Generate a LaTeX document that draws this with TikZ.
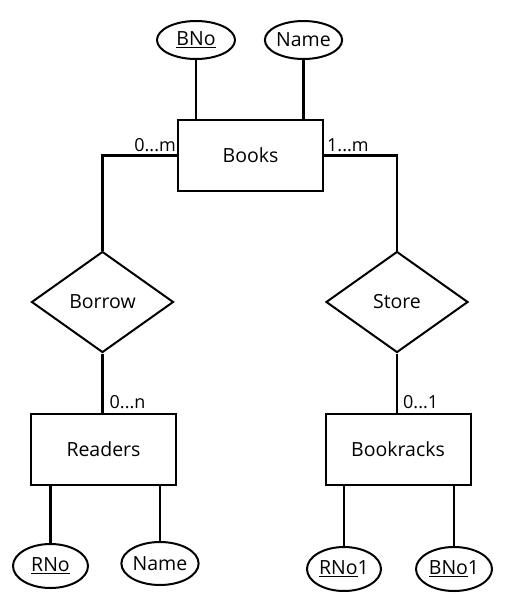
\documentclass[tikz,border=0pt]{standalone}
\usepackage{fontspec}
\setmainfont{Open Sans}
\usetikzlibrary{shapes.geometric}
\begin{document}
\begin{tikzpicture}[x=1pt,y=-1pt,
  every node/.style={font=\fontsize{19.5}{22}\selectfont},
  ent/.style={draw,line width=2pt,minimum width=145pt,minimum height=71pt,inner sep=0pt},
  rel/.style={draw,line width=2pt,diamond,minimum width=142pt,minimum height=101pt,inner sep=0pt,aspect=1.4},
  attr/.style={draw,line width=2pt,ellipse,inner sep=0pt},
  card/.style={inner sep=0pt,font=\fontsize{18}{20}\selectfont},
  conn/.style={line width=2.4pt}]
\useasboundingbox (0,0) rectangle (505,603);
\node[ent] (books) at (250.5,155.5) {Books};
\node[ent] (readers) at (103.5,449) {Readers};
\node[ent] (racks) at (398,449) {Bookracks};
\node[rel] (borrow) at (102.5,302) {Borrow};
\node[rel] (store) at (397,302) {Store};
\node[attr,minimum width=78pt,minimum height=38pt] (bno) at (196,40) {\underline{BNo}};
\node[attr,minimum width=73pt,minimum height=38pt] (bname) at (303.5,40) {Name};
\node[attr,minimum width=75pt,minimum height=44pt] (rno) at (50.5,566) {\underline{RNo}};
\node[attr,minimum width=74pt,minimum height=43pt] (rname) at (160,563.5) {Name};
\node[attr,minimum width=74pt,minimum height=44pt] (rno1) at (344,569) {\underline{RNo}1};
\node[attr,minimum width=76pt,minimum height=44pt] (bno1) at (454,569) {\underline{BNo}1};
\draw[conn] (bno) -- (bno |- books.north);
\draw[conn] (bname) -- (bname |- books.north);
\draw[conn] (books.west) -| (borrow.north);
\draw[conn] (books.east) -| (store.north);
\draw[conn] (borrow.south) -- (borrow.south |- readers.north);
\draw[conn] (store.south) -- (store.south |- racks.north);
\draw[conn] (rno) -- (rno |- readers.south);
\draw[conn] (rname) -- (rname |- readers.south);
\draw[conn] (rno1) -- (rno1 |- racks.south);
\draw[conn] (bno1) -- (bno1 |- racks.south);
\node[card,anchor=south east] (c1) at ([xshift=-1pt,yshift=4pt]books.west) {0...m};
\node[card,anchor=south west] (c2) at ([xshift=3pt,yshift=4pt]books.east) {1...m};
\node[card,anchor=south west] (c3) at ([xshift=7pt,yshift=4pt]borrow.south |- readers.north) {0...n};
\node[card,anchor=south west] (c4) at ([xshift=6pt,yshift=4pt]store.south |- racks.north) {0...1};
\end{tikzpicture}
\end{document}
